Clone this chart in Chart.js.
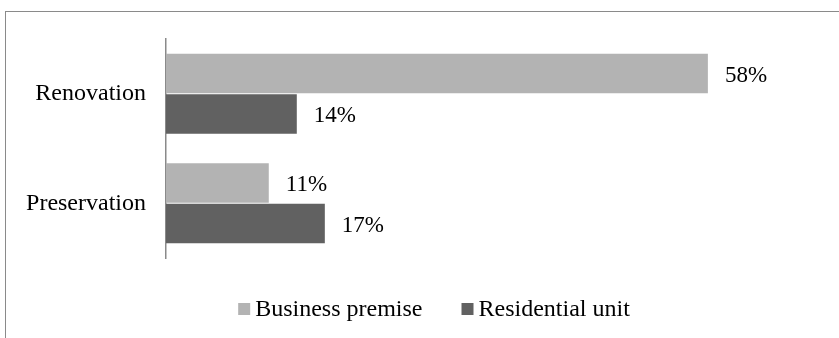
<!DOCTYPE html>
<html lang="en">
<head>
    <meta charset="UTF-8">
    <title>Renovation vs Preservation</title>
    <script src="https://cdn.jsdelivr.net/npm/chart.js"></script>
    <style>
        html, body { margin: 0; padding: 0; background: #fff; overflow: hidden; }
        .frame {
            position: absolute;
            left: 5px;
            top: 11px;
            width: 856px;
            height: 340px;
            border: 1px solid #8a8a8a;
        }
        .frame canvas { display: block; }
    </style>
</head>
<body>
    <div class="frame">
        <canvas id="grafico" width="856" height="340"></canvas>
    </div>

    <script>
        // dados
        const categorias = ['Renovation', 'Preservation'];
        const nomesSeries = ['Business premise', 'Residential unit'];
        const businessPremise = [58, 11];
        const residentialUnit = [14, 17];
        const coresSeries = ['#b3b3b3', '#616161'];

        const familia = "'Liberation Serif', 'Times New Roman', serif";
        const fonte = { family: familia, size: 24 };
        const fonteRotulo = { family: familia, size: 23 };

        // rótulos de valor ao lado das barras
        const rotulosValor = {
            id: 'rotulosValor',
            afterDatasetsDraw(chart) {
                const ctx = chart.ctx;
                ctx.save();
                ctx.font = `${fonteRotulo.size}px ${fonteRotulo.family}`;
                ctx.fillStyle = '#000';
                ctx.textAlign = 'left';
                ctx.textBaseline = 'middle';
                chart.data.datasets.forEach((ds, i) => {
                    chart.getDatasetMeta(i).data.forEach((bar, j) => {
                        ctx.fillText(ds.data[j] + '%', bar.x + 17, bar.y + 2);
                    });
                });
                ctx.restore();
            }
        };

        // legenda embaixo, centralizada
        const legendaBaixo = {
            id: 'legendaBaixo',
            afterDraw(chart) {
                const ctx = chart.ctx;
                const caixa = 12, espaco = 5, entre = 39;
                ctx.save();
                ctx.font = `${fonte.size}px ${fonte.family}`;
                ctx.textBaseline = 'middle';
                const itens = chart.data.datasets.map(ds => ({
                    texto: ds.label,
                    cor: ds.backgroundColor,
                    largura: caixa + espaco + ctx.measureText(ds.label).width
                }));
                const total = itens.reduce((s, it) => s + it.largura, 0) + entre * (itens.length - 1);
                let x = (chart.width - total) / 2;
                const y = chart.chartArea.bottom + 51;
                itens.forEach(it => {
                    ctx.fillStyle = it.cor;
                    ctx.fillRect(x, y - caixa / 2, caixa, caixa);
                    ctx.fillStyle = '#000';
                    ctx.fillText(it.texto, x + caixa + espaco, y + 1);
                    x += it.largura + entre;
                });
                ctx.restore();
            }
        };

        new Chart(document.getElementById('grafico'), {
            type: 'bar',
            data: {
                labels: categorias,
                datasets: [
                    { label: nomesSeries[0], data: businessPremise, backgroundColor: coresSeries[0] },
                    { label: nomesSeries[1], data: residentialUnit, backgroundColor: coresSeries[1] }
                ]
            },
            options: {
                indexAxis: 'y',
                responsive: false,
                animation: false,
                events: [],
                categoryPercentage: 0.74,
                barPercentage: 0.975,
                layout: { padding: { left: 0, top: 27, right: 42, bottom: 94 } },
                scales: {
                    x: { display: false, min: 0, max: 70 },
                    y: {
                        grid: { display: false },
                        border: { display: true, color: '#8a8a8a', width: 1.5 },
                        ticks: { color: '#000', font: fonte, padding: 12 },
                        afterFit(scale) { scale.width = 160; }
                    }
                },
                plugins: {
                    legend: { display: false },
                    tooltip: { enabled: false }
                }
            },
            plugins: [rotulosValor, legendaBaixo]
        });
    </script>
</body>
</html>
